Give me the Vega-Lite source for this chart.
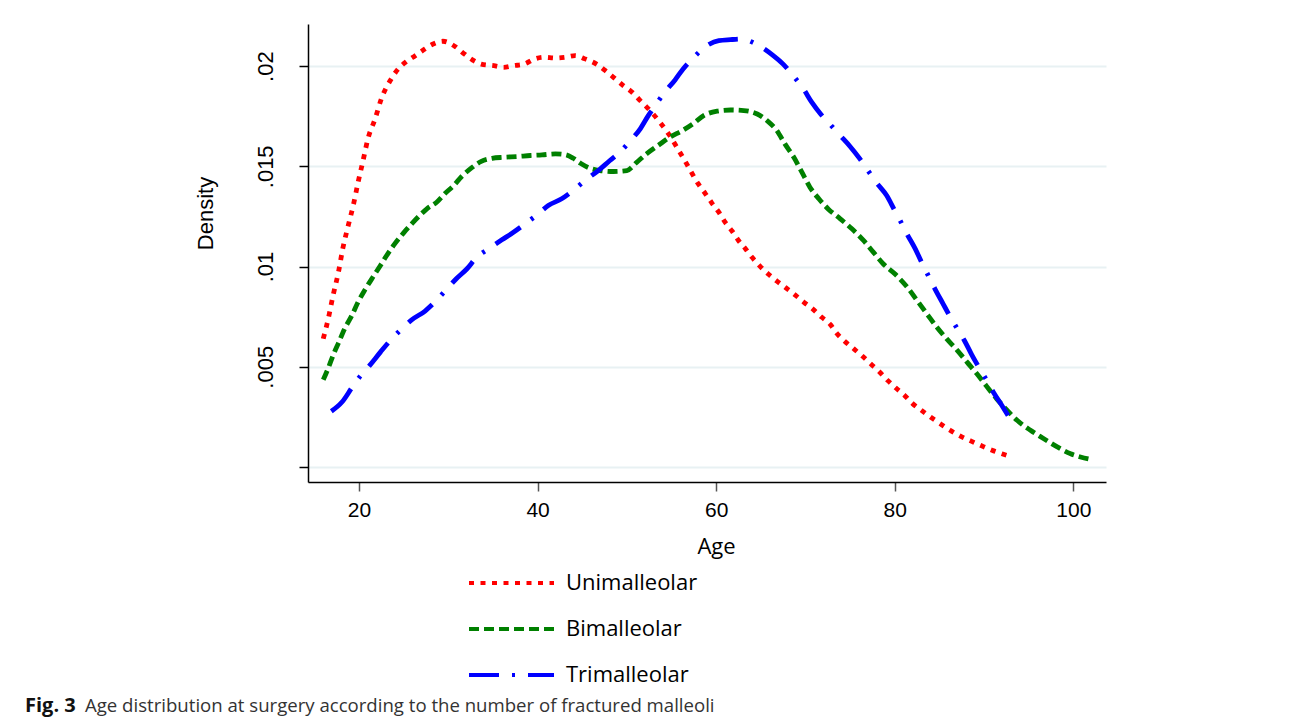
{
  "$schema": "https://vega.github.io/schema/vega-lite/v6.json",
  "autosize": {"type": "pad"},
  "padding": {"left": 25, "top": 24, "right": 184, "bottom": 6},
  "background": "white",
  "title": {
    "text": "Fig. 3",
    "orient": "bottom",
    "anchor": "start",
    "frame": "group",
    "dx": -283,
    "offset": -20,
    "font": "Open Sans",
    "fontSize": 20,
    "fontWeight": "bold",
    "color": "#111111"
  },
  "vconcat": [
    {
      "width": 798,
      "height": 458,
      "title": {
        "text": "Age distribution at surgery according to the number of fractured malleoli",
        "orient": "bottom",
        "anchor": "start",
        "frame": "group",
        "dx": -223,
        "offset": 140,
        "font": "Open Sans",
        "fontSize": 18.6,
        "fontWeight": "normal",
        "color": "#333333"
      },
      "data": {
        "values": [
          {"t": "Unimalleolar", "age": 16.0, "d": 0.00640},
          {"t": "Unimalleolar", "age": 16.6, "d": 0.00748},
          {"t": "Unimalleolar", "age": 17.1, "d": 0.00856},
          {"t": "Unimalleolar", "age": 17.7, "d": 0.00972},
          {"t": "Unimalleolar", "age": 18.2, "d": 0.01093},
          {"t": "Unimalleolar", "age": 18.8, "d": 0.01205},
          {"t": "Unimalleolar", "age": 19.4, "d": 0.01313},
          {"t": "Unimalleolar", "age": 19.9, "d": 0.01420},
          {"t": "Unimalleolar", "age": 20.5, "d": 0.01537},
          {"t": "Unimalleolar", "age": 21.0, "d": 0.01637},
          {"t": "Unimalleolar", "age": 21.8, "d": 0.01736},
          {"t": "Unimalleolar", "age": 22.5, "d": 0.01836},
          {"t": "Unimalleolar", "age": 23.5, "d": 0.01928},
          {"t": "Unimalleolar", "age": 24.4, "d": 0.01986},
          {"t": "Unimalleolar", "age": 25.3, "d": 0.02022},
          {"t": "Unimalleolar", "age": 26.3, "d": 0.02052},
          {"t": "Unimalleolar", "age": 27.2, "d": 0.02080},
          {"t": "Unimalleolar", "age": 28.3, "d": 0.02110},
          {"t": "Unimalleolar", "age": 29.4, "d": 0.02124},
          {"t": "Unimalleolar", "age": 30.8, "d": 0.02097},
          {"t": "Unimalleolar", "age": 31.7, "d": 0.02064},
          {"t": "Unimalleolar", "age": 32.7, "d": 0.02031},
          {"t": "Unimalleolar", "age": 33.7, "d": 0.02010},
          {"t": "Unimalleolar", "age": 35.1, "d": 0.02002},
          {"t": "Unimalleolar", "age": 36.2, "d": 0.01994},
          {"t": "Unimalleolar", "age": 37.3, "d": 0.02002},
          {"t": "Unimalleolar", "age": 38.5, "d": 0.02010},
          {"t": "Unimalleolar", "age": 39.7, "d": 0.02036},
          {"t": "Unimalleolar", "age": 40.7, "d": 0.02044},
          {"t": "Unimalleolar", "age": 42.0, "d": 0.02040},
          {"t": "Unimalleolar", "age": 43.1, "d": 0.02044},
          {"t": "Unimalleolar", "age": 44.2, "d": 0.02052},
          {"t": "Unimalleolar", "age": 45.3, "d": 0.02036},
          {"t": "Unimalleolar", "age": 46.6, "d": 0.02010},
          {"t": "Unimalleolar", "age": 47.6, "d": 0.01977},
          {"t": "Unimalleolar", "age": 48.5, "d": 0.01944},
          {"t": "Unimalleolar", "age": 49.6, "d": 0.01903},
          {"t": "Unimalleolar", "age": 50.6, "d": 0.01869},
          {"t": "Unimalleolar", "age": 51.5, "d": 0.01828},
          {"t": "Unimalleolar", "age": 52.6, "d": 0.01778},
          {"t": "Unimalleolar", "age": 53.7, "d": 0.01720},
          {"t": "Unimalleolar", "age": 54.7, "d": 0.01660},
          {"t": "Unimalleolar", "age": 55.6, "d": 0.01595},
          {"t": "Unimalleolar", "age": 56.7, "d": 0.01512},
          {"t": "Unimalleolar", "age": 58.0, "d": 0.01412},
          {"t": "Unimalleolar", "age": 58.8, "d": 0.01363},
          {"t": "Unimalleolar", "age": 59.5, "d": 0.01318},
          {"t": "Unimalleolar", "age": 60.3, "d": 0.01271},
          {"t": "Unimalleolar", "age": 61.0, "d": 0.01221},
          {"t": "Unimalleolar", "age": 61.8, "d": 0.01176},
          {"t": "Unimalleolar", "age": 62.5, "d": 0.01130},
          {"t": "Unimalleolar", "age": 63.3, "d": 0.01088},
          {"t": "Unimalleolar", "age": 64.0, "d": 0.01047},
          {"t": "Unimalleolar", "age": 64.9, "d": 0.01002},
          {"t": "Unimalleolar", "age": 65.9, "d": 0.00960},
          {"t": "Unimalleolar", "age": 66.8, "d": 0.00927},
          {"t": "Unimalleolar", "age": 67.8, "d": 0.00894},
          {"t": "Unimalleolar", "age": 68.9, "d": 0.00856},
          {"t": "Unimalleolar", "age": 69.8, "d": 0.00823},
          {"t": "Unimalleolar", "age": 70.8, "d": 0.00789},
          {"t": "Unimalleolar", "age": 71.8, "d": 0.00748},
          {"t": "Unimalleolar", "age": 72.8, "d": 0.00710},
          {"t": "Unimalleolar", "age": 73.5, "d": 0.00667},
          {"t": "Unimalleolar", "age": 74.5, "d": 0.00623},
          {"t": "Unimalleolar", "age": 75.4, "d": 0.00590},
          {"t": "Unimalleolar", "age": 76.4, "d": 0.00552},
          {"t": "Unimalleolar", "age": 77.3, "d": 0.00515},
          {"t": "Unimalleolar", "age": 78.3, "d": 0.00474},
          {"t": "Unimalleolar", "age": 79.2, "d": 0.00432},
          {"t": "Unimalleolar", "age": 80.1, "d": 0.00395},
          {"t": "Unimalleolar", "age": 81.1, "d": 0.00357},
          {"t": "Unimalleolar", "age": 82.0, "d": 0.00316},
          {"t": "Unimalleolar", "age": 83.0, "d": 0.00282},
          {"t": "Unimalleolar", "age": 84.0, "d": 0.00249},
          {"t": "Unimalleolar", "age": 85.1, "d": 0.00216},
          {"t": "Unimalleolar", "age": 86.2, "d": 0.00183},
          {"t": "Unimalleolar", "age": 87.3, "d": 0.00155},
          {"t": "Unimalleolar", "age": 88.5, "d": 0.00130},
          {"t": "Unimalleolar", "age": 89.6, "d": 0.00108},
          {"t": "Unimalleolar", "age": 90.9, "d": 0.00083},
          {"t": "Unimalleolar", "age": 92.0, "d": 0.00066},
          {"t": "Unimalleolar", "age": 92.9, "d": 0.00053},

          {"t": "Bimalleolar", "age": 16.0, "d": 0.00435},
          {"t": "Bimalleolar", "age": 16.6, "d": 0.00498},
          {"t": "Bimalleolar", "age": 17.1, "d": 0.00557},
          {"t": "Bimalleolar", "age": 17.7, "d": 0.00618},
          {"t": "Bimalleolar", "age": 18.4, "d": 0.00690},
          {"t": "Bimalleolar", "age": 19.2, "d": 0.00756},
          {"t": "Bimalleolar", "age": 19.9, "d": 0.00823},
          {"t": "Bimalleolar", "age": 20.7, "d": 0.00886},
          {"t": "Bimalleolar", "age": 21.6, "d": 0.00950},
          {"t": "Bimalleolar", "age": 22.4, "d": 0.01005},
          {"t": "Bimalleolar", "age": 23.1, "d": 0.01055},
          {"t": "Bimalleolar", "age": 24.0, "d": 0.01113},
          {"t": "Bimalleolar", "age": 25.0, "d": 0.01168},
          {"t": "Bimalleolar", "age": 25.9, "d": 0.01213},
          {"t": "Bimalleolar", "age": 26.8, "d": 0.01255},
          {"t": "Bimalleolar", "age": 27.6, "d": 0.01288},
          {"t": "Bimalleolar", "age": 28.7, "d": 0.01321},
          {"t": "Bimalleolar", "age": 29.6, "d": 0.01363},
          {"t": "Bimalleolar", "age": 30.6, "d": 0.01404},
          {"t": "Bimalleolar", "age": 31.5, "d": 0.01449},
          {"t": "Bimalleolar", "age": 32.6, "d": 0.01492},
          {"t": "Bimalleolar", "age": 33.7, "d": 0.01525},
          {"t": "Bimalleolar", "age": 34.9, "d": 0.01540},
          {"t": "Bimalleolar", "age": 36.2, "d": 0.01545},
          {"t": "Bimalleolar", "age": 37.7, "d": 0.01549},
          {"t": "Bimalleolar", "age": 39.2, "d": 0.01554},
          {"t": "Bimalleolar", "age": 40.5, "d": 0.01557},
          {"t": "Bimalleolar", "age": 42.0, "d": 0.01562},
          {"t": "Bimalleolar", "age": 43.1, "d": 0.01558},
          {"t": "Bimalleolar", "age": 44.0, "d": 0.01540},
          {"t": "Bimalleolar", "age": 44.8, "d": 0.01515},
          {"t": "Bimalleolar", "age": 45.9, "d": 0.01490},
          {"t": "Bimalleolar", "age": 47.0, "d": 0.01479},
          {"t": "Bimalleolar", "age": 48.5, "d": 0.01474},
          {"t": "Bimalleolar", "age": 50.0, "d": 0.01479},
          {"t": "Bimalleolar", "age": 51.1, "d": 0.01520},
          {"t": "Bimalleolar", "age": 52.2, "d": 0.01562},
          {"t": "Bimalleolar", "age": 53.5, "d": 0.01604},
          {"t": "Bimalleolar", "age": 54.8, "d": 0.01645},
          {"t": "Bimalleolar", "age": 56.2, "d": 0.01678},
          {"t": "Bimalleolar", "age": 57.5, "d": 0.01715},
          {"t": "Bimalleolar", "age": 58.6, "d": 0.01753},
          {"t": "Bimalleolar", "age": 60.1, "d": 0.01775},
          {"t": "Bimalleolar", "age": 61.6, "d": 0.01781},
          {"t": "Bimalleolar", "age": 63.1, "d": 0.01778},
          {"t": "Bimalleolar", "age": 64.6, "d": 0.01761},
          {"t": "Bimalleolar", "age": 65.7, "d": 0.01728},
          {"t": "Bimalleolar", "age": 66.8, "d": 0.01678},
          {"t": "Bimalleolar", "age": 67.7, "d": 0.01612},
          {"t": "Bimalleolar", "age": 68.7, "d": 0.01545},
          {"t": "Bimalleolar", "age": 69.6, "d": 0.01471},
          {"t": "Bimalleolar", "age": 70.5, "d": 0.01396},
          {"t": "Bimalleolar", "age": 71.5, "d": 0.01338},
          {"t": "Bimalleolar", "age": 72.6, "d": 0.01285},
          {"t": "Bimalleolar", "age": 73.9, "d": 0.01238},
          {"t": "Bimalleolar", "age": 75.2, "d": 0.01188},
          {"t": "Bimalleolar", "age": 76.5, "d": 0.01130},
          {"t": "Bimalleolar", "age": 77.6, "d": 0.01072},
          {"t": "Bimalleolar", "age": 78.7, "d": 0.01014},
          {"t": "Bimalleolar", "age": 80.1, "d": 0.00960},
          {"t": "Bimalleolar", "age": 81.4, "d": 0.00897},
          {"t": "Bimalleolar", "age": 82.5, "d": 0.00831},
          {"t": "Bimalleolar", "age": 83.6, "d": 0.00764},
          {"t": "Bimalleolar", "age": 84.7, "d": 0.00698},
          {"t": "Bimalleolar", "age": 85.8, "d": 0.00640},
          {"t": "Bimalleolar", "age": 87.0, "d": 0.00582},
          {"t": "Bimalleolar", "age": 88.1, "d": 0.00523},
          {"t": "Bimalleolar", "age": 89.2, "d": 0.00465},
          {"t": "Bimalleolar", "age": 90.3, "d": 0.00402},
          {"t": "Bimalleolar", "age": 91.4, "d": 0.00341},
          {"t": "Bimalleolar", "age": 92.6, "d": 0.00282},
          {"t": "Bimalleolar", "age": 93.7, "d": 0.00233},
          {"t": "Bimalleolar", "age": 95.2, "d": 0.00183},
          {"t": "Bimalleolar", "age": 96.7, "d": 0.00141},
          {"t": "Bimalleolar", "age": 98.2, "d": 0.00100},
          {"t": "Bimalleolar", "age": 99.7, "d": 0.00066},
          {"t": "Bimalleolar", "age": 100.8, "d": 0.00050},
          {"t": "Bimalleolar", "age": 102.1, "d": 0.00037},

          {"t": "Trimalleolar", "age": 16.9, "d": 0.00278},
          {"t": "Trimalleolar", "age": 18.1, "d": 0.00324},
          {"t": "Trimalleolar", "age": 19.2, "d": 0.00395},
          {"t": "Trimalleolar", "age": 20.2, "d": 0.00457},
          {"t": "Trimalleolar", "age": 21.2, "d": 0.00507},
          {"t": "Trimalleolar", "age": 22.4, "d": 0.00573},
          {"t": "Trimalleolar", "age": 23.5, "d": 0.00631},
          {"t": "Trimalleolar", "age": 24.6, "d": 0.00681},
          {"t": "Trimalleolar", "age": 25.9, "d": 0.00734},
          {"t": "Trimalleolar", "age": 27.4, "d": 0.00778},
          {"t": "Trimalleolar", "age": 28.5, "d": 0.00823},
          {"t": "Trimalleolar", "age": 29.6, "d": 0.00876},
          {"t": "Trimalleolar", "age": 30.9, "d": 0.00939},
          {"t": "Trimalleolar", "age": 32.1, "d": 0.00989},
          {"t": "Trimalleolar", "age": 33.2, "d": 0.01047},
          {"t": "Trimalleolar", "age": 34.5, "d": 0.01088},
          {"t": "Trimalleolar", "age": 36.0, "d": 0.01133},
          {"t": "Trimalleolar", "age": 37.3, "d": 0.01171},
          {"t": "Trimalleolar", "age": 38.6, "d": 0.01213},
          {"t": "Trimalleolar", "age": 40.0, "d": 0.01260},
          {"t": "Trimalleolar", "age": 41.2, "d": 0.01304},
          {"t": "Trimalleolar", "age": 42.7, "d": 0.01338},
          {"t": "Trimalleolar", "age": 44.0, "d": 0.01380},
          {"t": "Trimalleolar", "age": 45.3, "d": 0.01429},
          {"t": "Trimalleolar", "age": 46.8, "d": 0.01479},
          {"t": "Trimalleolar", "age": 48.1, "d": 0.01529},
          {"t": "Trimalleolar", "age": 49.2, "d": 0.01570},
          {"t": "Trimalleolar", "age": 50.4, "d": 0.01628},
          {"t": "Trimalleolar", "age": 51.5, "d": 0.01687},
          {"t": "Trimalleolar", "age": 52.4, "d": 0.01753},
          {"t": "Trimalleolar", "age": 53.3, "d": 0.01811},
          {"t": "Trimalleolar", "age": 54.3, "d": 0.01873},
          {"t": "Trimalleolar", "age": 55.4, "d": 0.01931},
          {"t": "Trimalleolar", "age": 56.3, "d": 0.01986},
          {"t": "Trimalleolar", "age": 57.5, "d": 0.02044},
          {"t": "Trimalleolar", "age": 58.8, "d": 0.02097},
          {"t": "Trimalleolar", "age": 60.3, "d": 0.02127},
          {"t": "Trimalleolar", "age": 61.6, "d": 0.02132},
          {"t": "Trimalleolar", "age": 62.9, "d": 0.02135},
          {"t": "Trimalleolar", "age": 63.4, "d": 0.02130},
          {"t": "Trimalleolar", "age": 64.9, "d": 0.02099},
          {"t": "Trimalleolar", "age": 66.4, "d": 0.02052},
          {"t": "Trimalleolar", "age": 67.5, "d": 0.02010},
          {"t": "Trimalleolar", "age": 68.7, "d": 0.01948},
          {"t": "Trimalleolar", "age": 69.7, "d": 0.01891},
          {"t": "Trimalleolar", "age": 70.7, "d": 0.01820},
          {"t": "Trimalleolar", "age": 71.7, "d": 0.01761},
          {"t": "Trimalleolar", "age": 72.7, "d": 0.01712},
          {"t": "Trimalleolar", "age": 73.9, "d": 0.01653},
          {"t": "Trimalleolar", "age": 75.0, "d": 0.01599},
          {"t": "Trimalleolar", "age": 76.1, "d": 0.01537},
          {"t": "Trimalleolar", "age": 77.0, "d": 0.01479},
          {"t": "Trimalleolar", "age": 78.0, "d": 0.01416},
          {"t": "Trimalleolar", "age": 79.1, "d": 0.01354},
          {"t": "Trimalleolar", "age": 79.9, "d": 0.01288},
          {"t": "Trimalleolar", "age": 80.6, "d": 0.01230},
          {"t": "Trimalleolar", "age": 81.4, "d": 0.01160},
          {"t": "Trimalleolar", "age": 82.3, "d": 0.01088},
          {"t": "Trimalleolar", "age": 83.0, "d": 0.01022},
          {"t": "Trimalleolar", "age": 83.7, "d": 0.00960},
          {"t": "Trimalleolar", "age": 84.5, "d": 0.00889},
          {"t": "Trimalleolar", "age": 85.4, "d": 0.00815},
          {"t": "Trimalleolar", "age": 86.2, "d": 0.00750},
          {"t": "Trimalleolar", "age": 87.0, "d": 0.00690},
          {"t": "Trimalleolar", "age": 87.8, "d": 0.00631},
          {"t": "Trimalleolar", "age": 88.6, "d": 0.00562},
          {"t": "Trimalleolar", "age": 89.4, "d": 0.00499},
          {"t": "Trimalleolar", "age": 90.3, "d": 0.00432},
          {"t": "Trimalleolar", "age": 91.1, "d": 0.00369},
          {"t": "Trimalleolar", "age": 92.0, "d": 0.00307},
          {"t": "Trimalleolar", "age": 92.9, "d": 0.00241}
        ]
      },
      "mark": {"type": "line", "interpolate": "monotone", "strokeWidth": 4.8, "strokeCap": "butt", "clip": true},
      "encoding": {
        "x": {
          "field": "age",
          "type": "quantitative",
          "scale": {"domain": [14.29, 103.66], "nice": false, "zero": false},
          "axis": {
            "title": "Age",
            "values": [20, 40, 60, 80, 100],
            "grid": false,
            "domainColor": "#000000",
            "domainWidth": 1.5,
            "tickColor": "#555555",
            "tickSize": 9,
            "tickWidth": 1.5,
            "labelFont": "Liberation Sans",
            "labelFontSize": 21,
            "labelColor": "#000000",
            "labelPadding": 8,
            "titleFont": "Open Sans",
            "titleFontSize": 22,
            "titleFontWeight": "normal",
            "titleColor": "#000000",
            "titlePadding": 16,
            "titleX": 408
          }
        },
        "y": {
          "field": "d",
          "type": "quantitative",
          "scale": {"domain": [-0.00075, 0.0221], "nice": false, "zero": false},
          "axis": {
            "title": "Density",
            "values": [0, 0.005, 0.01, 0.015, 0.02],
            "labelExpr": "datum.value == 0 ? '' : replace(toString(datum.value), '0.', '.')",
            "grid": true,
            "gridColor": "#e8f1f3",
            "gridWidth": 2,
            "domainColor": "#000000",
            "domainWidth": 1.5,
            "tickColor": "#000000",
            "tickSize": 9,
            "tickWidth": 1.5,
            "labelAngle": 270,
            "labelFont": "Liberation Sans",
            "labelFontSize": 22,
            "labelColor": "#000000",
            "labelPadding": 22,
            "titleFont": "Liberation Sans",
            "titleFontSize": 22,
            "titleFontWeight": "normal",
            "titleColor": "#000000",
            "titlePadding": 37,
            "titleY": 189
          }
        },
        "color": {
          "field": "t",
          "type": "nominal",
          "scale": {"domain": ["Unimalleolar", "Bimalleolar", "Trimalleolar"], "range": ["#ff0000", "#008000", "#0000ff"]},
          "legend": {"title": null, "orient": "none", "legendX": 159, "legendY": 548, "direction": "vertical"}
        },
        "strokeDash": {
          "field": "t",
          "type": "nominal",
          "scale": {"domain": ["Unimalleolar", "Bimalleolar", "Trimalleolar"], "range": [[5, 6.5], [10, 5], [30, 13, 3, 13]]},
          "legend": {"title": null, "orient": "none", "legendX": 159, "legendY": 548, "direction": "vertical"}
        }
      }
    }
  ],
  "config": {
    "view": {"stroke": null},
    "legend": {
      "symbolType": "stroke",
      "symbolSize": 7225,
      "symbolStrokeWidth": 4,
      "labelFont": "Open Sans",
      "labelFontSize": 22,
      "labelColor": "#000000",
      "labelOffset": 10,
      "rowPadding": 24,
      "clipHeight": 22,
      "padding": 0,
      "labelLimit": 400
    }
  }
}
